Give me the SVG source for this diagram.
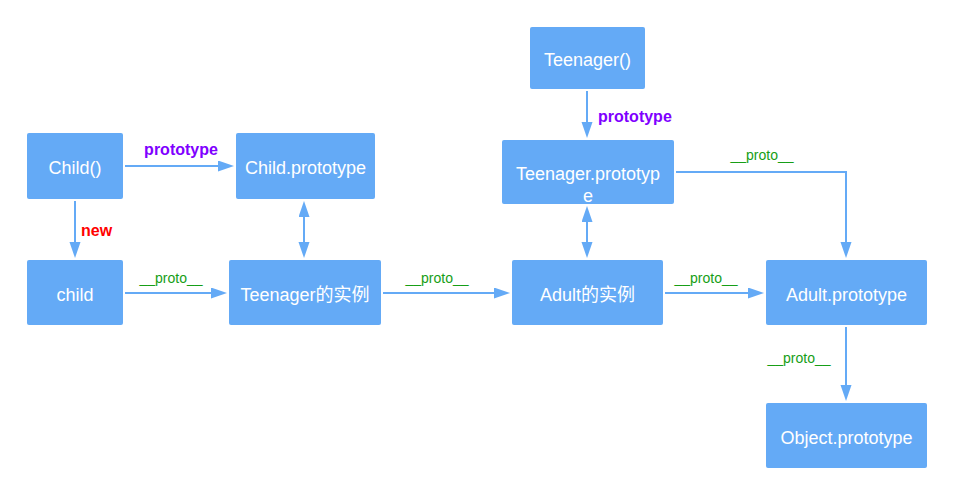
<svg xmlns="http://www.w3.org/2000/svg" width="953" height="496" viewBox="0 0 953 496">
<style>
.n{fill:#64aaf6}
.t{fill:#fff;font-family:"Liberation Sans","Noto Sans CJK SC",Arial,sans-serif;font-size:18px;text-anchor:middle}
.e{fill:none;stroke:#64aaf6;stroke-width:2}
.p{fill:#8000ff;font-family:"Liberation Sans",Arial,sans-serif;font-size:16px;font-weight:bold}
.r{fill:#ff0000;font-family:"Liberation Sans",Arial,sans-serif;font-size:16px;font-weight:bold}
.g{fill:#169e16;font-family:"Liberation Sans",Arial,sans-serif;font-size:14px;text-anchor:middle}
</style>
<defs>
<marker id="a" markerUnits="userSpaceOnUse" markerWidth="16" markerHeight="12" refX="12" refY="5.5" orient="auto-start-reverse">
<path d="M0,0 L16,5.5 L0,11 z" fill="#64aaf6"/>
</marker>
</defs>
<rect width="953" height="496" fill="#fff"/>
<g id="connectors">
<path class="e" d="M125,166 H230" marker-end="url(#a)"/>
<text class="p" x="181" y="155" text-anchor="middle">prototype</text>
<path class="e" d="M75,201 V254" marker-end="url(#a)"/>
<text class="r" x="81" y="236">new</text>
<path class="e" d="M125,293 H223" marker-end="url(#a)"/>
<text class="g" x="171" y="283">__proto__</text>
<path class="e" d="M304,205 V254" marker-start="url(#a)" marker-end="url(#a)"/>
<path class="e" d="M383,293 H506" marker-end="url(#a)"/>
<text class="g" x="437" y="283">__proto__</text>
<path class="e" d="M587,91 V134" marker-end="url(#a)"/>
<text class="p" x="598" y="122">prototype</text>
<path class="e" d="M587,210 V254" marker-start="url(#a)" marker-end="url(#a)"/>
<path class="e" d="M676,172 H846 V254" marker-end="url(#a)"/>
<text class="g" x="762" y="160">__proto__</text>
<path class="e" d="M665,293 H760" marker-end="url(#a)"/>
<text class="g" x="706" y="283">__proto__</text>
<path class="e" d="M846,327 V397" marker-end="url(#a)"/>
<text class="g" x="799" y="363">__proto__</text>
</g>
<g id="child-fn"><rect class="n" x="27" y="133" width="96" height="66" rx="2"/><text class="t" x="75" y="174">Child()</text></g>
<g id="child-proto"><rect class="n" x="236" y="133" width="139" height="66" rx="2"/><text class="t" x="305.5" y="174">Child.prototype</text></g>
<g id="child"><rect class="n" x="27" y="260" width="96" height="65" rx="2"/><text class="t" x="75" y="301">child</text></g>
<g id="teen-inst"><rect class="n" x="229" y="260" width="152" height="65" rx="2"/><text class="t" x="305" y="301">Teenager的实例</text></g>
<g id="teen-fn"><rect class="n" x="530" y="27" width="115" height="62" rx="2"/><text class="t" x="587.5" y="66">Teenager()</text></g>
<g id="teen-proto"><rect class="n" x="502" y="140" width="172" height="64" rx="2"/><text class="t" x="588" y="180">Teenager.prototyp</text><text class="t" x="588" y="202">e</text></g>
<g id="adult-inst"><rect class="n" x="512" y="260" width="151" height="65" rx="2"/><text class="t" x="587.5" y="301">Adult的实例</text></g>
<g id="adult-proto"><rect class="n" x="766" y="260" width="161" height="65" rx="2"/><text class="t" x="846.5" y="301">Adult.prototype</text></g>
<g id="object-proto"><rect class="n" x="766" y="403" width="161" height="65" rx="2"/><text class="t" x="846.5" y="444">Object.prototype</text></g>
</svg>
